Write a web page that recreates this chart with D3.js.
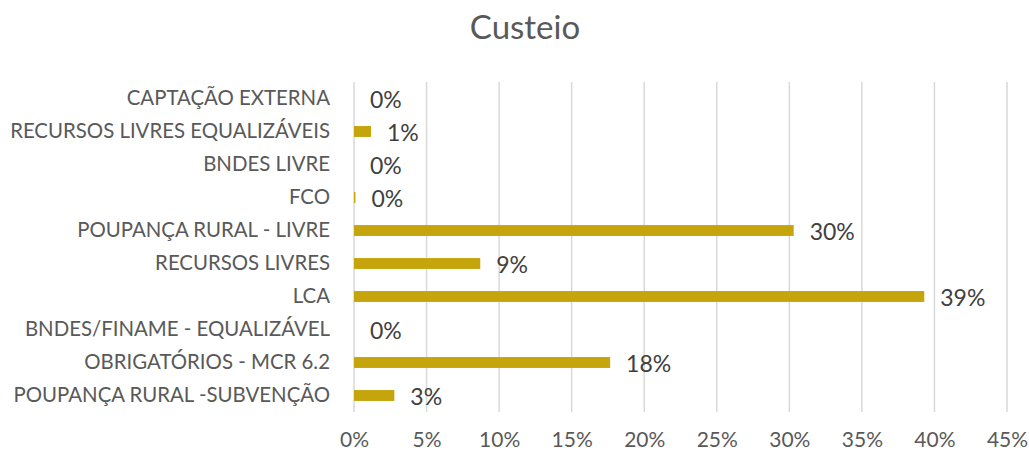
<!DOCTYPE html>
<html>
<head>
<meta charset="utf-8">
<script src="https://cdn.jsdelivr.net/npm/d3@7"></script>
<style>
  body { margin: 0; background: #fff; }
  text { font-family: Lato, "Open Sans", sans-serif; }
</style>
</head>
<body>
<svg width="1029" height="451"></svg>
<script>
// data
let categories = [
  "CAPTAÇÃO EXTERNA",
  "RECURSOS LIVRES EQUALIZÁVEIS",
  "BNDES LIVRE",
  "FCO",
  "POUPANÇA RURAL - LIVRE",
  "RECURSOS LIVRES",
  "LCA",
  "BNDES/FINAME - EQUALIZÁVEL",
  "OBRIGATÓRIOS - MCR 6.2",
  "POUPANÇA RURAL -SUBVENÇÃO"
];
let values = [0.0, 1.17, 0.0, 0.1, 30.3, 8.7, 39.3, 0.0, 17.65, 2.78];
let labels = ["0%", "1%", "0%", "0%", "30%", "9%", "39%", "0%", "18%", "3%"];
let ticks = [0, 5, 10, 15, 20, 25, 30, 35, 40, 45];

let svg = d3.select("svg"),
  width = +svg.attr("width"),
  height = +svg.attr("height");

let x = d3.scaleLinear().domain([0, 45]).range([354, 1007]);
let y = d3.scaleBand().domain(categories).range([82, 412]).paddingInner(0.67).paddingOuter(0.335);

// title
svg.append("text")
  .attr("x", 525).attr("y", 39)
  .attr("text-anchor", "middle")
  .style("font-size", "33px")
  .style("fill", "#595959")
  .text("Custeio");

// gridlines
svg.append("g")
  .selectAll("line")
  .data(ticks)
  .enter().append("line")
  .attr("x1", d => x(d)).attr("x2", d => x(d))
  .attr("y1", 82).attr("y2", 412)
  .attr("stroke", "#d9d9d9")
  .attr("stroke-width", 1.5);

// x axis labels
let xAxis = svg.append("g")
  .attr("transform", "translate(0,412)")
  .call(d3.axisBottom(x).tickValues(ticks).tickFormat(d => d + "%").tickSize(0).tickPadding(20));
xAxis.select(".domain").remove();
xAxis.selectAll("text")
  .style("font-size", "21px")
  .style("font-family", "Lato, sans-serif")
  .style("fill", "#595959");

// category labels
let yAxis = svg.append("g")
  .attr("transform", "translate(354,0)")
  .call(d3.axisLeft(y).tickSize(0).tickPadding(24));
yAxis.select(".domain").remove();
yAxis.selectAll("text")
  .style("font-size", "20.4px")
  .style("font-family", "Lato, sans-serif")
  .style("fill", "#595959");

// bars
svg.append("g")
  .selectAll("rect")
  .data(values)
  .enter().append("rect")
  .attr("x", x(0))
  .attr("y", (d, i) => y(categories[i]))
  .attr("width", d => x(d) - x(0))
  .attr("height", y.bandwidth())
  .attr("fill", "#c5a40c");

// value labels
svg.append("g")
  .selectAll("text")
  .data(values)
  .enter().append("text")
  .attr("x", d => x(d) + 16)
  .attr("y", (d, i) => y(categories[i]) + y.bandwidth() / 2)
  .attr("dy", "0.4em")
  .style("font-size", "23px")
  .style("fill", "#404040")
  .text((d, i) => labels[i]);
</script>
</body>
</html>
